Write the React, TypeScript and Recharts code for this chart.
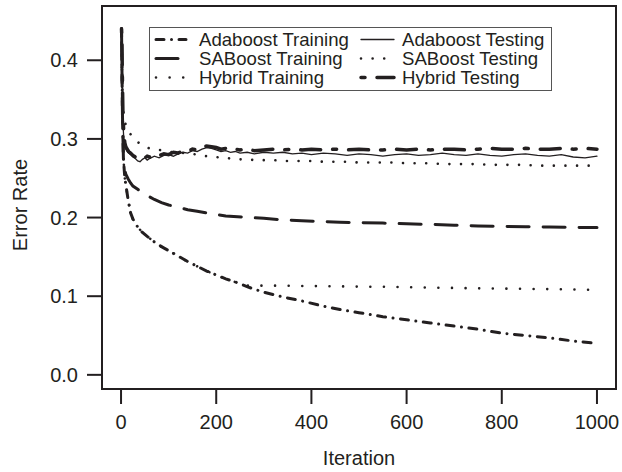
import { LineChart, Line, XAxis, YAxis, ReferenceArea, Label } from 'recharts';

const FONT = '"Liberation Sans", Arial, Helvetica, sans-serif';
const INK = '#231f20';

// iterations sampled for the (smooth) training curves
const trainIters = [1, 3, 5, 8, 10, 15, 20, 25, 35, 45, 55, 70, 85, 100, 120, 140, 160, 180, 200, 220, 245, 270, 300, 340, 380, 420, 460, 500, 550, 600, 650, 700, 750, 800, 850, 900, 950, 1000];
const adaTrain = [0.44, 0.33, 0.275, 0.25, 0.242, 0.222, 0.206, 0.198, 0.188, 0.181, 0.176, 0.169, 0.163, 0.158, 0.151, 0.144, 0.138, 0.132, 0.127, 0.122, 0.117, 0.111, 0.105, 0.099, 0.094, 0.088, 0.083, 0.079, 0.074, 0.07, 0.066, 0.062, 0.058, 0.053, 0.05, 0.047, 0.043, 0.04];
const saTrain = [0.44, 0.33, 0.275, 0.262, 0.255, 0.249, 0.244, 0.24, 0.236, 0.231, 0.228, 0.223, 0.219, 0.216, 0.213, 0.21, 0.208, 0.206, 0.204, 0.202, 0.201, 0.2, 0.199, 0.197, 0.196, 0.195, 0.194, 0.1935, 0.193, 0.192, 0.1913, 0.1903, 0.1893, 0.1887, 0.1884, 0.188, 0.1876, 0.1872];
const hybTrain = [0.44, 0.33, 0.275, 0.25, 0.242, 0.222, 0.206, 0.198, 0.188, 0.181, 0.176, 0.169, 0.163, 0.158, 0.151, 0.144, 0.138, 0.132, 0.127, 0.122, 0.117, 0.113, 0.1135, 0.1133, 0.113, 0.1128, 0.1125, 0.1122, 0.112, 0.1115, 0.111, 0.1105, 0.11, 0.1097, 0.1093, 0.109, 0.1085, 0.108];

// testing curves are noisy, so they get more samples
const testIters = [1, 2, 3, 4, 6, 8, 10, 13, 16, 20, 25, 30, 35, 40, 45, 50, 55, 60, 70, 80, 90, 100, 110, 120, 130, 140, 150, 160, 170, 180, 190, 200, 210, 220, 230, 240, 250, 265, 280, 300, 320, 340, 360, 380, 400, 425, 450, 475, 500, 525, 550, 575, 600, 625, 650, 675, 700, 725, 750, 775, 800, 825, 850, 875, 900, 925, 950, 975, 1000];
const adaTest = [0.437, 0.41, 0.36, 0.32, 0.298, 0.29, 0.287, 0.284, 0.282, 0.28, 0.277, 0.275, 0.272, 0.271, 0.274, 0.276, 0.273, 0.275, 0.278, 0.276, 0.279, 0.28, 0.278, 0.281, 0.283, 0.282, 0.285, 0.284, 0.287, 0.289, 0.288, 0.286, 0.284, 0.285, 0.283, 0.284, 0.282, 0.283, 0.281, 0.283, 0.282, 0.283, 0.281, 0.282, 0.28, 0.282, 0.281, 0.279, 0.281, 0.28, 0.278, 0.28, 0.281, 0.279, 0.28, 0.282, 0.28, 0.279, 0.281, 0.279, 0.278, 0.28, 0.281, 0.279, 0.278, 0.28, 0.277, 0.276, 0.278];
const saTest = [0.437, 0.4, 0.36, 0.34, 0.328, 0.322, 0.318, 0.314, 0.31, 0.306, 0.302, 0.299, 0.296, 0.294, 0.292, 0.29, 0.289, 0.288, 0.287, 0.286, 0.285, 0.284, 0.283, 0.283, 0.282, 0.282, 0.281, 0.28, 0.279, 0.278, 0.278, 0.277, 0.276, 0.276, 0.275, 0.275, 0.274, 0.274, 0.273, 0.273, 0.273, 0.272, 0.272, 0.272, 0.272, 0.271, 0.271, 0.271, 0.27, 0.27, 0.27, 0.27, 0.269, 0.269, 0.269, 0.268, 0.268, 0.268, 0.268, 0.267, 0.267, 0.267, 0.267, 0.266, 0.266, 0.266, 0.266, 0.266, 0.266];
const hybTest = [0.44, 0.42, 0.37, 0.33, 0.305, 0.295, 0.29, 0.287, 0.284, 0.282, 0.279, 0.277, 0.276, 0.275, 0.277, 0.276, 0.278, 0.277, 0.28, 0.279, 0.281, 0.28, 0.283, 0.282, 0.285, 0.284, 0.287, 0.286, 0.289, 0.291, 0.29, 0.289, 0.287, 0.288, 0.286, 0.287, 0.286, 0.287, 0.285, 0.286, 0.287, 0.286, 0.287, 0.286, 0.287, 0.286, 0.287, 0.286, 0.287, 0.286, 0.286, 0.287, 0.286, 0.287, 0.286, 0.287, 0.287, 0.286, 0.287, 0.288, 0.287, 0.287, 0.288, 0.287, 0.287, 0.288, 0.287, 0.288, 0.287];

const seriesNames = ['Adaboost Training', 'SABoost Training', 'Hybrid Training', 'Adaboost Testing', 'SABoost Testing', 'Hybrid Testing'];
const xTicks = [0, 200, 400, 600, 800, 1000];
const yTicks = [0, 0.1, 0.2, 0.3, 0.4];

const X_DOMAIN = [-40, 1040];
const Y_DOMAIN = [-0.018, 0.469];

const toPoints = (xs: number[], ys: number[]) => xs.map((x, i) => ({ iter: x, err: ys[i] }));

// line styles, same order as seriesNames
const lineStyles = [
  { dash: '8 7.5 0.01 7.5', width: 3 },
  { dash: '22 14', width: 3 },
  { dash: '0.01 13.6', width: 2.6 },
  { dash: undefined, width: 1.3 },
  { dash: '0.01 11.6', width: 2.6 },
  { dash: '4 12 20 12', width: 3.5 },
];

const series = [
  { name: seriesNames[0], data: toPoints(trainIters, adaTrain) },
  { name: seriesNames[1], data: toPoints(trainIters, saTrain) },
  { name: seriesNames[2], data: toPoints(trainIters, hybTrain) },
  { name: seriesNames[3], data: toPoints(testIters, adaTest) },
  { name: seriesNames[4], data: toPoints(testIters, saTest) },
  { name: seriesNames[5], data: toPoints(testIters, hybTest) },
].map((s, i) => ({ ...s, ...lineStyles[i] }));

const tickStyle = { fill: INK, fontSize: 20, fontFamily: FONT };

function LegendBox() {
  return (
    <svg width={622} height={472} style={{ position: 'absolute', left: 0, top: 0, pointerEvents: 'none' }}>
      <rect x={149.5} y={27.5} width={402} height={63} fill="white" stroke="#555" strokeWidth={1} />
      {series.map((s, i) => {
        const col = Math.floor(i / 3);
        const y = 39.5 + (i % 3) * 19;
        const x0 = col ? 361 : 156;
        const x1 = col ? 394 : 186;
        const tx = col ? 402 : 199;
        return (
          <g key={s.name}>
            <line x1={x0} x2={x1} y1={y} y2={y} stroke={INK} strokeWidth={s.width}
              strokeDasharray={s.dash} strokeLinecap="round" />
            <text x={tx} y={y} dominantBaseline="central" fill={INK} fontSize={18.6} fontFamily={FONT}>
              {s.name}
            </text>
          </g>
        );
      })}
    </svg>
  );
}

export default function App() {
  return (
    <div style={{ position: 'absolute', left: 0, top: 0, width: 622, height: 472, background: 'white' }}>
      <LineChart width={622} height={472} margin={{ top: 6, right: 6, bottom: 0, left: 0 }}>
        <XAxis dataKey="iter" type="number" domain={X_DOMAIN} ticks={xTicks} allowDataOverflow
          height={83} axisLine={false} tickSize={15} tickMargin={11}
          tickLine={{ stroke: INK, strokeWidth: 2 }} tick={tickStyle}>
          <Label content={() => (
            <text x={359} y={465} textAnchor="middle" fill={INK} fontSize={20} fontFamily={FONT}>Iteration</text>
          )} />
        </XAxis>
        <YAxis dataKey="err" type="number" domain={Y_DOMAIN} ticks={yTicks} allowDataOverflow
          width={102} axisLine={false} tickSize={15} tickMargin={9}
          tickFormatter={(v: number) => v.toFixed(1)}
          tickLine={{ stroke: INK, strokeWidth: 2 }} tick={tickStyle}>
          <Label content={() => (
            <text x={20} y={205} transform="rotate(-90, 20, 205)" textAnchor="middle" dominantBaseline="central"
              fill={INK} fontSize={20} fontFamily={FONT}>Error Rate</text>
          )} />
        </YAxis>
        <ReferenceArea x1={X_DOMAIN[0]} x2={X_DOMAIN[1]} y1={Y_DOMAIN[0]} y2={Y_DOMAIN[1]}
          fill="none" stroke={INK} strokeWidth={2} ifOverflow="visible" />
        {series.map((s) => (
          <Line key={s.name} data={s.data} dataKey="err" name={s.name} type="linear"
            stroke={INK} strokeWidth={s.width} strokeDasharray={s.dash} strokeLinecap="round"
            dot={false} activeDot={false} isAnimationActive={false} />
        ))}
      </LineChart>
      <LegendBox />
    </div>
  );
}
